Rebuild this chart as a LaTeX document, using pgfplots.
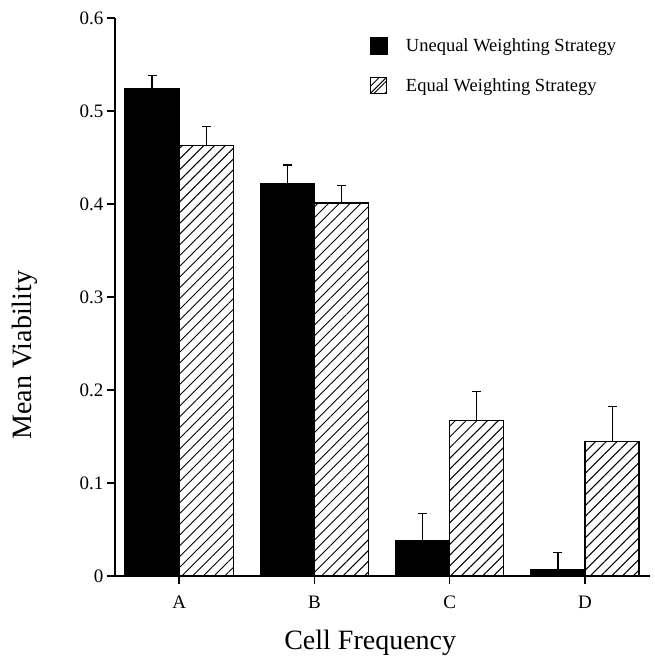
\documentclass[border=0pt]{standalone}
\usepackage{pgfplots}
\pgfplotsset{compat=1.18}
\usepackage{fontspec}
\setmainfont{Liberation Serif}
\usetikzlibrary{patterns.meta}

\begin{document}
\begin{tikzpicture}
\begin{axis}[
    scale only axis,
    width=535pt, height=558pt,
    xmin=-0.474, xmax=3.48,
    ymin=0, ymax=0.6,
    axis x line=bottom, axis y line=left,
    axis line style={-, line width=1.4pt},
    every tick/.style={black, line width=1.4pt},
    tick align=outside, major tick length=8pt,
    xtick={0,1,2,3}, xticklabels={A,B,C,D},
    ytick={0,0.1,0.2,0.3,0.4,0.5,0.6},
    /pgf/number format/assume math mode=true,
    ticklabel style={font=\fontsize{19}{19}\selectfont},
    xticklabel style={anchor=base, yshift=-24pt},
    xlabel={Cell Frequency},
    ylabel={Mean Viability},
    label style={font=\fontsize{28}{28}\selectfont},
    xlabel style={at={(axis description cs:0.477,-0.1326)}, anchor=base},
    ylabel style={at={(axis description cs:-0.138,0.396)}, anchor=south},
    legend style={draw=none, fill=none, at={(axis description cs:0.47,0.97)},
        anchor=north west, font=\fontsize{18.5}{18.5}\selectfont,
        row sep=21pt, nodes={inner sep=2pt}},
    legend cell align=left,
    error bars/y dir=plus, error bars/y explicit,
    error bars/error mark=-,
    error bars/error bar style={line width=1.2pt},
    error bars/error mark options={rotate=90, line width=1.2pt, mark size=4.5pt},
]
% unequal weighting, centred 0.2 left of each category
\addplot[ybar, bar width=54pt, bar shift=0pt, fill=black, draw=black,
    line width=1.2pt,
    legend image code/.code={\fill[black] (0pt,-8.5pt) rectangle (17pt,8.5pt);},
    ]
    coordinates {(-0.2,0.524) +- (0,0.014) (0.8,0.422) +- (0,0.020)
                 (1.8,0.038) +- (0,0.029) (2.8,0.0065) +- (0,0.019)};
\addlegendentry{\hspace{16pt}Unequal Weighting Strategy}
% equal weighting, centred 0.2 right of each category
\addplot[ybar, bar width=54pt, bar shift=0pt, draw=black, line width=1.3pt,
    pattern={Lines[angle=45, distance=7.6pt, line width=1pt]},
    legend image code/.code={
        \draw[line width=1.4pt] (0pt,-8pt) rectangle (16pt,8pt);
        \draw[line width=1pt] (0pt,-8pt) -- (16pt,8pt);},
    ]
    coordinates {(0.2,0.463) +- (0,0.020) (1.2,0.401) +- (0,0.019)
                 (2.2,0.167) +- (0,0.031) (3.2,0.145) +- (0,0.037)};
\addlegendentry{\hspace{16pt}Equal Weighting Strategy}
\coordinate (bl) at (rel axis cs:0,0);
\coordinate (tr) at (rel axis cs:1,1);
\end{axis}
\pgfresetboundingbox
\path[use as bounding box] ([shift={(-115pt,-85pt)}]bl) rectangle ([shift={(5pt,18pt)}]tr);
\end{tikzpicture}
\end{document}
